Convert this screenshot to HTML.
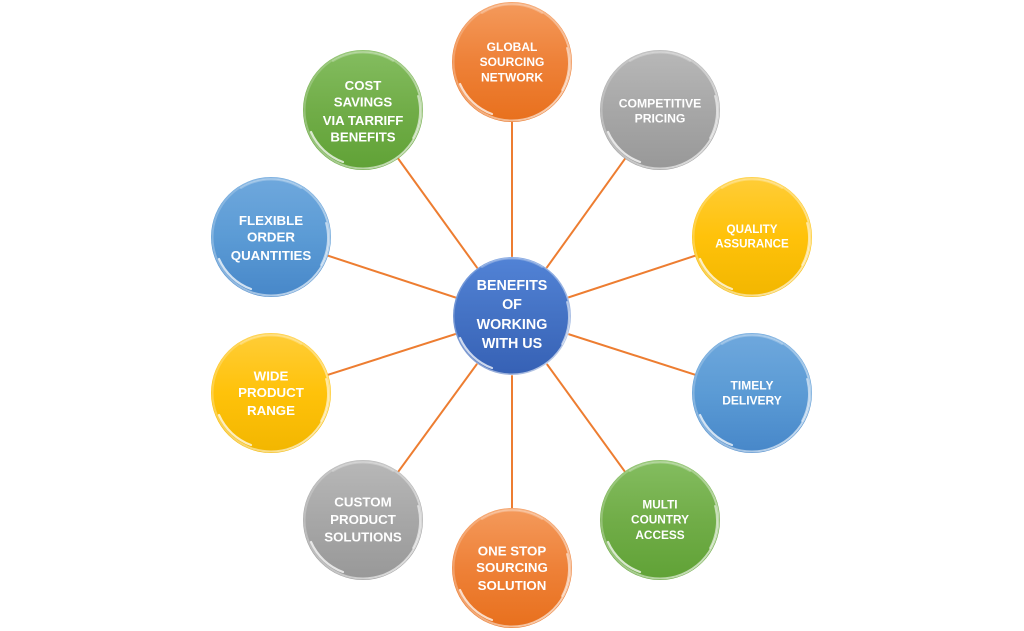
<!DOCTYPE html>
<html>
<head>
<meta charset="utf-8">
<style>
  html, body { margin: 0; padding: 0; background: #ffffff; }
  svg { display: block; }
  text { font-family: "Liberation Sans", Arial, sans-serif; font-weight: bold; fill: #ffffff; text-anchor: middle; }
</style>
</head>
<body>
<svg width="1024" height="631" viewBox="0 0 1024 631" xmlns="http://www.w3.org/2000/svg">
  <defs>
    <linearGradient id="gOrange" x1="0" y1="0" x2="0" y2="1">
      <stop offset="0" stop-color="#F49A5C"/>
      <stop offset="0.5" stop-color="#EE8138"/>
      <stop offset="1" stop-color="#E8701D"/>
    </linearGradient>
    <linearGradient id="gGray" x1="0" y1="0" x2="0" y2="1">
      <stop offset="0" stop-color="#B8B8B8"/>
      <stop offset="0.5" stop-color="#A7A7A7"/>
      <stop offset="1" stop-color="#989898"/>
    </linearGradient>
    <linearGradient id="gGold" x1="0" y1="0" x2="0" y2="1">
      <stop offset="0" stop-color="#FFCD38"/>
      <stop offset="0.5" stop-color="#FFC20A"/>
      <stop offset="1" stop-color="#F2B600"/>
    </linearGradient>
    <linearGradient id="gBlue" x1="0" y1="0" x2="0" y2="1">
      <stop offset="0" stop-color="#6FA8DD"/>
      <stop offset="0.5" stop-color="#5B9BD5"/>
      <stop offset="1" stop-color="#4787C9"/>
    </linearGradient>
    <linearGradient id="gGreen" x1="0" y1="0" x2="0" y2="1">
      <stop offset="0" stop-color="#84BD60"/>
      <stop offset="0.5" stop-color="#71AD48"/>
      <stop offset="1" stop-color="#60A236"/>
    </linearGradient>
    <linearGradient id="gCenter" x1="0" y1="0" x2="0" y2="1">
      <stop offset="0" stop-color="#5283D6"/>
      <stop offset="0.5" stop-color="#4472C4"/>
      <stop offset="1" stop-color="#3661B5"/>
    </linearGradient>
    <linearGradient id="rim" x1="0" y1="0" x2="1" y2="1">
      <stop offset="0" stop-color="#ffffff" stop-opacity="0.15"/>
      <stop offset="0.5" stop-color="#ffffff" stop-opacity="0.35"/>
      <stop offset="1" stop-color="#ffffff" stop-opacity="0.75"/>
    </linearGradient>
    <g id="gloss">
      <circle r="58.5" fill="none" stroke="url(#rim)" stroke-width="2"/>
      <path d="M -52 22 A 56 56 0 0 0 -20 52" fill="none" stroke="#ffffff" stroke-opacity="0.75" stroke-width="2.2" stroke-linecap="round"/>
      <path d="M 55 -14 A 57 57 0 0 1 50 28" fill="none" stroke="#ffffff" stroke-opacity="0.6" stroke-width="1.8" stroke-linecap="round"/>
      <path d="M -30 -49 A 57 57 0 0 1 30 -49" fill="none" stroke="#ffffff" stroke-opacity="0.25" stroke-width="2" stroke-linecap="round"/>
    </g>
  </defs>

  <!-- connectors -->
  <g stroke="#ED7D31" stroke-width="2" fill="none">
    <line x1="512" y1="316" x2="512" y2="62"/>
    <line x1="512" y1="316" x2="660" y2="110"/>
    <line x1="512" y1="316" x2="752" y2="237"/>
    <line x1="512" y1="316" x2="752" y2="393"/>
    <line x1="512" y1="316" x2="660" y2="520"/>
    <line x1="512" y1="316" x2="512" y2="568"/>
    <line x1="512" y1="316" x2="363" y2="520"/>
    <line x1="512" y1="316" x2="271" y2="393"/>
    <line x1="512" y1="316" x2="271" y2="237"/>
    <line x1="512" y1="316" x2="363" y2="110"/>
  </g>

  <!-- Global Sourcing Network -->
  <circle cx="512" cy="62" r="60" fill="url(#gOrange)"/>
  <use href="#gloss" x="512" y="62"/>
  <text font-size="12"><tspan x="512" y="51">GLOBAL</tspan><tspan x="512" y="66">SOURCING</tspan><tspan x="512" y="81.3">NETWORK</tspan></text>

  <!-- Competitive Pricing -->
  <circle cx="660" cy="110" r="60" fill="url(#gGray)"/>
  <use href="#gloss" x="660" y="110"/>
  <text font-size="12.2"><tspan x="660" y="107.6">COMPETITIVE</tspan><tspan x="660" y="122.6">PRICING</tspan></text>

  <!-- Quality Assurance -->
  <circle cx="752" cy="237" r="60" fill="url(#gGold)"/>
  <use href="#gloss" x="752" y="237"/>
  <text font-size="11.6"><tspan x="752" y="233.2">QUALITY</tspan><tspan x="752" y="247.5">ASSURANCE</tspan></text>

  <!-- Timely Delivery -->
  <circle cx="752" cy="393" r="60" fill="url(#gBlue)"/>
  <use href="#gloss" x="752" y="393"/>
  <text font-size="12"><tspan x="752" y="389.3">TIMELY</tspan><tspan x="752" y="404.3">DELIVERY</tspan></text>

  <!-- Multi Country Access -->
  <circle cx="660" cy="520" r="60" fill="url(#gGreen)"/>
  <use href="#gloss" x="660" y="520"/>
  <text font-size="11.8"><tspan x="660" y="508.3">MULTI</tspan><tspan x="660" y="523.3">COUNTRY</tspan><tspan x="660" y="539">ACCESS</tspan></text>

  <!-- One Stop Sourcing Solution -->
  <circle cx="512" cy="568" r="60" fill="url(#gOrange)"/>
  <use href="#gloss" x="512" y="568"/>
  <text font-size="13.3"><tspan x="512" y="555.5">ONE STOP</tspan><tspan x="512" y="571.8">SOURCING</tspan><tspan x="512" y="589.8">SOLUTION</tspan></text>

  <!-- Custom Product Solutions -->
  <circle cx="363" cy="520" r="60" fill="url(#gGray)"/>
  <use href="#gloss" x="363" y="520"/>
  <text font-size="13.3"><tspan x="363" y="506.5">CUSTOM</tspan><tspan x="363" y="523.8">PRODUCT</tspan><tspan x="363" y="541.5">SOLUTIONS</tspan></text>

  <!-- Wide Product Range -->
  <circle cx="271" cy="393" r="60" fill="url(#gGold)"/>
  <use href="#gloss" x="271" y="393"/>
  <text font-size="13.3"><tspan x="271" y="380.5">WIDE</tspan><tspan x="271" y="397.1">PRODUCT</tspan><tspan x="271" y="414.8">RANGE</tspan></text>

  <!-- Flexible Order Quantities -->
  <circle cx="271" cy="237" r="60" fill="url(#gBlue)"/>
  <use href="#gloss" x="271" y="237"/>
  <text font-size="13.3"><tspan x="271" y="224.8">FLEXIBLE</tspan><tspan x="271" y="241.5">ORDER</tspan><tspan x="271" y="259.8">QUANTITIES</tspan></text>

  <!-- Cost Savings via Tarriff Benefits -->
  <circle cx="363" cy="110" r="60" fill="url(#gGreen)"/>
  <use href="#gloss" x="363" y="110"/>
  <text font-size="13.2"><tspan x="363" y="89.8">COST</tspan><tspan x="363" y="106.5">SAVINGS</tspan><tspan x="363" y="124.8">VIA TARRIFF</tspan><tspan x="363" y="141.5">BENEFITS</tspan></text>

  <!-- Center -->
  <circle cx="512" cy="316" r="59" fill="url(#gCenter)"/>
  <use href="#gloss" x="512" y="316"/>
  <text font-size="14.3"><tspan x="512" y="290.2">BENEFITS</tspan><tspan x="512" y="309.2">OF</tspan><tspan x="512" y="329.2">WORKING</tspan><tspan x="512" y="348.2">WITH US</tspan></text>
</svg>
</body>
</html>
